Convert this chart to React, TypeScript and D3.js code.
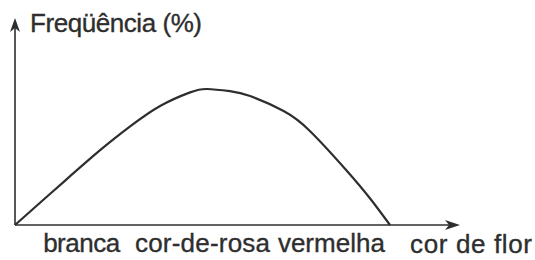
import React from "react";
import * as d3 from "d3";

// position along the "cor de flor" axis (0 = branca end, 100 = vermelha end)
const curveX = [0, 7.5, 13.3, 22.7, 30.7, 38.7, 46.7, 51.2, 57.3, 62.7, 71.5, 78.7, 88.3, 94.7, 100];
// frequency (%), relative scale, peak = 100
const curveY = [0, 18.4, 32.5, 55.0, 72.5, 87.5, 97.5, 100, 98.4, 94.8, 84.0, 69.0, 40.5, 19.5, 0];

const yTitle = "Freqüência (%)";
const xTitle = "cor de flor";
const categories = ["branca", "cor-de-rosa", "vermelha"];
const categoryPos = [7.5, 32, 70.1];
const categoryLen = [77, 135, 107];

const W = 535;
const H = 260;
const ox = 15;
const oy = 225;

export default function App() {
  const x = d3.scaleLinear().domain([0, 100]).range([ox, 390]);
  const y = d3.scaleLinear().domain([0, 100]).range([oy, 89]);
  const pts: [number, number][] = curveX.map((v, i) => [v, curveY[i]]);
  const line = d3
    .line<[number, number]>()
    .x((d) => x(d[0]))
    .y((d) => y(d[1]))
    .curve(d3.curveNatural);

  const ink = "#2e2e2e";
  const xTip = 460;
  const yTip = 18;
  const font = "'Liberation Sans', Arial, sans-serif";
  const textStyle = { stroke: ink, strokeWidth: 0.35 };

  return (
    <svg
      width={W}
      height={H}
      style={{ position: "absolute", left: 0, top: 0, background: "#fff" }}
    >
      {/* axes */}
      <line x1={ox} y1={oy} x2={xTip - 8} y2={oy} stroke={ink} strokeWidth={1.6} />
      <line x1={ox} y1={oy} x2={ox} y2={yTip + 8} stroke={ink} strokeWidth={1.6} />
      <path
        d={`M${xTip},${oy} L${xTip - 15},${oy - 5} L${xTip - 11},${oy} L${xTip - 15},${oy + 5} Z`}
        fill={ink}
      />
      <path
        d={`M${ox},${yTip} L${ox - 5},${yTip + 14} L${ox},${yTip + 10} L${ox + 5},${yTip + 14} Z`}
        fill={ink}
      />
      {/* curve */}
      <path d={line(pts) || ""} fill="none" stroke={ink} strokeWidth={2.2} />
      {/* texts */}
      <text x={30} y={32} fontFamily={font} fontSize={26} fill={ink} style={textStyle} textLength={172}>
        {yTitle}
      </text>
      {categories.map((c, i) => (
        <text
          key={c}
          x={x(categoryPos[i])}
          y={252}
          fontFamily={font}
          fontSize={26}
          fill={ink}
          style={textStyle}
          textLength={categoryLen[i]}
        >
          {c}
        </text>
      ))}
      <text x={410} y={253} fontFamily={font} fontSize={26} fill={ink} style={textStyle} textLength={122}>
        {xTitle}
      </text>
    </svg>
  );
}
